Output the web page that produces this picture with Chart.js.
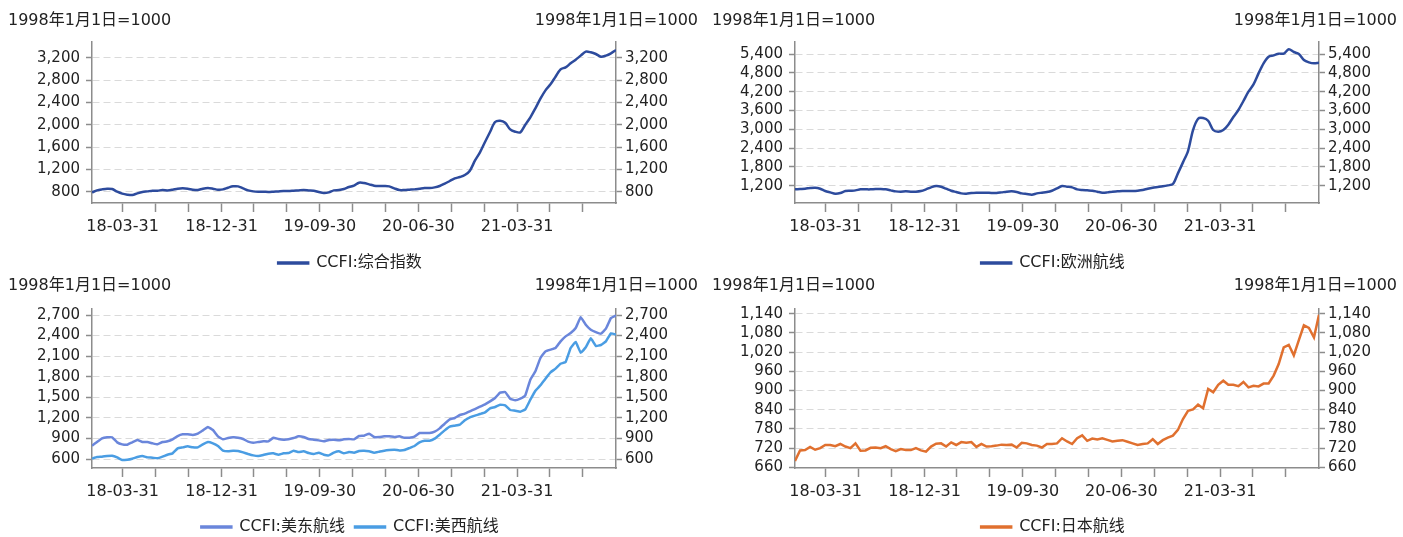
<!DOCTYPE html>
<html>
<head>
<meta charset="utf-8">
<script src="https://cdn.jsdelivr.net/npm/chart.js@4.4.0/dist/chart.umd.min.js"></script>
<style>
html, body { margin: 0; padding: 0; background: #fff; width: 1403px; height: 537px; overflow: hidden; position: relative; }
canvas { position: absolute; }
.unit { position: absolute; font: 16px "DejaVu Sans", "Noto Sans CJK SC", sans-serif; color: #222; line-height: 20px; white-space: nowrap; }
</style>
</head>
<body>
<canvas id="c1" width="700" height="281" style="left:0px;top:0px"></canvas>
<canvas id="c2" width="700" height="281" style="left:703px;top:0px"></canvas>
<canvas id="c3" width="700" height="279" style="left:0px;top:266px"></canvas>
<canvas id="c4" width="700" height="279" style="left:703px;top:266px"></canvas>

<div class="unit" style="left:8px;top:10px">1998年1月1日=1000</div>
<div class="unit" style="right:705px;top:10px">1998年1月1日=1000</div>
<div class="unit" style="left:712px;top:10px">1998年1月1日=1000</div>
<div class="unit" style="right:6px;top:10px">1998年1月1日=1000</div>
<div class="unit" style="left:8px;top:275px">1998年1月1日=1000</div>
<div class="unit" style="right:705px;top:275px">1998年1月1日=1000</div>
<div class="unit" style="left:712px;top:275px">1998年1月1日=1000</div>
<div class="unit" style="right:6px;top:275px">1998年1月1日=1000</div>

<script>
// biweekly samples, day 4 = 2018-01-05, last = 2021-12-31
var firstDay = 4;
var stepDays = 14;

var composite = [788,824,842,854,848,800,765,747,741,771,795,806,818,818,830,824,836,854,860,854,
  836,830,854,866,854,836,842,872,896,896,860,824,806,800,800,795,800,806,812,812,
  818,824,830,824,818,795,777,788,824,830,848,884,910,962,956,932,908,902,902,896,
  860,830,830,836,842,854,866,866,878,902,944,992,1039,1063,1099,1177,1356,1505,1690,1869,
  2048,2072,2036,1917,1875,1863,2000,2132,2293,2466,2615,2723,2860,2992,3027,3099,3165,3237,3308,3296,
  3266,3218,3237,3278,3338];

var europe = [1083,1094,1104,1126,1136,1104,1030,987,945,966,1030,1040,1051,1083,1083,1083,1094,1094,1083,1051,
  1019,1009,1019,1009,1009,1030,1083,1147,1189,1168,1104,1040,998,955,945,966,977,977,977,966,
  966,987,1009,1019,998,955,934,913,955,977,998,1040,1115,1189,1168,1147,1083,1062,1051,1040,
  1009,977,987,1009,1019,1030,1030,1030,1040,1062,1104,1136,1157,1179,1211,1253,1593,1944,2306,2976,
  3337,3359,3273,2976,2923,2976,3146,3390,3614,3901,4198,4432,4783,5102,5315,5357,5411,5411,5549,5464,
  5400,5209,5134,5102,5124];

var usEast = [794,848,901,916,916,843,814,809,843,877,848,848,829,814,848,858,887,935,960,960,
  950,970,1018,1067,1023,931,887,906,916,911,892,853,838,848,858,858,911,892,882,887,
  906,931,921,892,882,872,858,877,882,872,887,892,887,935,940,970,921,921,931,931,
  921,931,911,911,926,979,979,979,999,1047,1115,1179,1198,1242,1261,1295,1329,1363,1397,1441,
  1490,1568,1577,1480,1456,1480,1529,1757,1879,2073,2170,2195,2219,2316,2389,2438,2511,2670,2559,2487,
  2452,2428,2501,2657,2695];

var usWest = [605,629,634,644,649,624,585,590,605,629,644,624,619,610,634,663,683,756,770,785,
  770,770,814,848,829,790,722,712,722,717,697,673,653,644,658,678,683,663,683,688,
  722,702,712,688,673,692,663,653,692,712,683,702,692,717,722,712,692,707,722,731,
  736,726,731,760,790,843,867,867,897,955,1018,1072,1086,1101,1164,1208,1232,1256,1281,1339,
  1358,1393,1383,1315,1305,1290,1324,1465,1597,1675,1772,1864,1918,1990,2015,2219,2307,2150,2230,2360,
  2250,2263,2316,2433,2414];

var japan = [680,713,714,724,715,720,730,730,726,733,725,720,735,712,713,721,722,720,726,717,
  711,717,714,714,720,713,709,725,734,735,725,738,730,739,737,739,724,733,725,726,
  728,731,730,731,722,737,735,730,728,722,733,733,735,751,741,733,751,760,743,750,
  747,751,746,741,743,745,740,735,730,733,735,748,733,745,753,759,777,811,837,841,
  856,845,905,895,918,931,918,918,914,927,910,915,913,922,922,947,983,1035,1043,1010,
  1058,1104,1096,1066,1137];

// quarter-end tick positions (days since 2018-01-01) and their labels
var quarterDays = [89,180,272,364,454,545,637,729,820,911,1003,1095,1185,1276,1368];
var quarterLabels = ['18-03-31','','','18-12-31','','','19-09-30','','','20-06-30','','','21-03-31','',''];

var ticksComposite = [800,1200,1600,2000,2400,2800,3200];
var ticksEurope = [1200,1800,2400,3000,3600,4200,4800,5400];
var ticksUS = [600,900,1200,1500,1800,2100,2400,2700];
var ticksJapan = [660,720,780,840,900,960,1020,1080,1140];

Chart.defaults.font.family = '"DejaVu Sans", "Noto Sans CJK SC", sans-serif';
Chart.defaults.color = '#222';

function toPoints(vals) {
  return vals.map(function (v, i) { return { x: firstDay + stepDays * i, y: v }; });
}

function yAxis(pos, min, max, tickVals, onArea) {
  return {
    type: 'linear',
    position: pos,
    min: min,
    max: max,
    afterBuildTicks: function (axis) {
      axis.ticks = tickVals.map(function (v) { return { value: v }; });
    },
    afterFit: function (scale) { scale.width = pos === 'left' ? 92 : 84; },
    grid: {
      drawOnChartArea: onArea,
      color: '#dadada',
      lineWidth: 1,
      tickColor: '#8c8c8c',
      tickLength: 6,
      tickWidth: 1.5
    },
    border: { color: '#8c8c8c', width: 1.5, dash: [7, 4] },
    ticks: {
      autoSkip: false,
      font: { size: 15 },
      color: '#222',
      padding: pos === 'left' ? 6 : 3,
      callback: function (v) { return v.toLocaleString('en-US'); }
    }
  };
}

function makeChart(id, sets, min, max, tickVals, padTop, areaBottom) {
  var canvas = document.getElementById(id);
  var legendH = 36;
  var xH = canvas.height - areaBottom - legendH;
  new Chart(canvas, {
    type: 'line',
    data: {
      datasets: sets.map(function (s) {
        return {
          label: s.label,
          data: toPoints(s.values),
          borderColor: s.color,
          backgroundColor: s.color,
          borderWidth: 2.5,
          pointRadius: 0,
          tension: s.tension,
          yAxisID: 'y'
        };
      })
    },
    options: {
      responsive: false,
      animation: false,
      devicePixelRatio: 1,
      layout: { padding: { top: padTop, left: 0, right: 0, bottom: 0 } },
      plugins: {
        legend: {
          position: 'bottom',
          labels: { boxWidth: 30, boxHeight: 1, padding: 10, font: { size: 16 }, color: '#222' }
        },
        tooltip: { enabled: false }
      },
      scales: {
        x: {
          type: 'linear',
          min: 4,
          max: 1460,
          afterBuildTicks: function (axis) {
            axis.ticks = quarterDays.map(function (d) { return { value: d }; });
          },
          afterFit: function (scale) { scale.height = xH; },
          grid: {
            drawOnChartArea: false,
            color: '#8c8c8c',
            tickLength: 9,
            tickWidth: 1.5
          },
          border: { color: '#8c8c8c', width: 1.5 },
          ticks: {
            autoSkip: false,
            maxRotation: 0,
            padding: 5,
            font: { size: 16 },
            color: '#222',
            callback: function (v, i) { return quarterLabels[i]; }
          }
        },
        y: yAxis('left', min, max, tickVals, true),
        yR: yAxis('right', min, max, tickVals, false)
      }
    }
  });
}

makeChart('c1', [{ label: 'CCFI:综合指数', values: composite, color: '#2d4b9d', tension: 0.3 }],
  598, 3481, ticksComposite, 42, 203);
makeChart('c2', [{ label: 'CCFI:欧洲航线', values: europe, color: '#2d4b9d', tension: 0.3 }],
  648, 5783, ticksEurope, 42, 203);
makeChart('c3', [
    { label: 'CCFI:美东航线', values: usEast, color: '#6a86db', tension: 0.1 },
    { label: 'CCFI:美西航线', values: usWest, color: '#4a9de3', tension: 0.1 }
  ], 469, 2788, ticksUS, 43, 202);
makeChart('c4', [{ label: 'CCFI:日本航线', values: japan, color: '#e0702f', tension: 0 }],
  658, 1155, ticksJapan, 43, 202);
</script>
</body>
</html>
